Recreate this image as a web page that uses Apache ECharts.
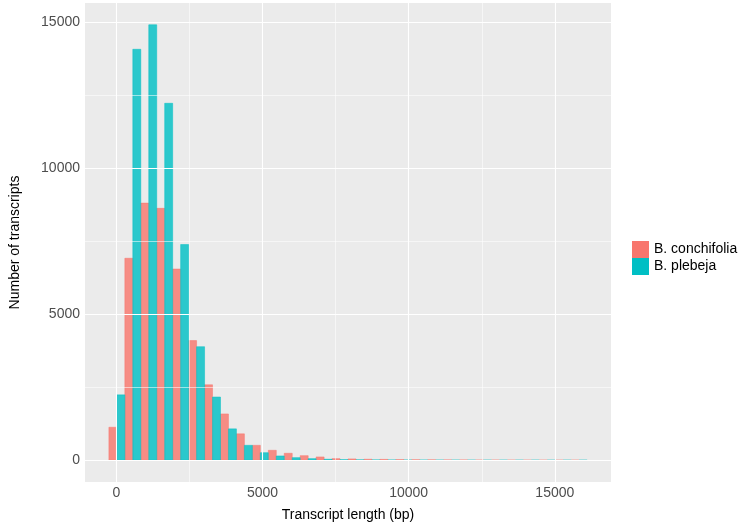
<!DOCTYPE html>
<html>
<head>
<meta charset="utf-8">
<script src="https://cdn.jsdelivr.net/npm/echarts@6/dist/echarts.min.js"></script>
<style>
  html, body { margin: 0; background: #fff; }
  #chart { width: 749px; height: 527px; }
</style>
</head>
<body>
<div id="chart"></div>
<script>
// histogram bins (30 bins, ggplot default)
const binStart = -259
const binWidth = 545.5
const conchifolia = [1130, 6920, 8810, 8630, 6550, 4100, 2585, 1585, 905, 510,
  340, 238, 156, 112, 54, 44, 34, 28, 22, 18, 15, 12, 10, 8, 7, 6, 5, 4, 4, 3]
const plebeja = [2240, 14080, 14920, 12230, 7390, 3890, 2165, 1075, 510, 258,
  146, 88, 54, 34, 20, 15, 12, 10, 9, 8, 7, 6, 5, 4, 4, 3, 3, 2, 2, 2]
const seriesNames = ['B. conchifolia', 'B. plebeja']
const xTicks = [0, 5000, 10000, 15000]
const yTicks = [0, 5000, 10000, 15000]
const xMinor = [2500, 7500, 12500]
const yMinor = [2500, 7500, 12500]

const font = "'Liberation Sans', Arial, sans-serif"
const half = binWidth / 2

// [left, right, count] for each dodged bar
let bars = (vals, offset) => vals.map((v, i) => {
  let x0 = binStart + i * binWidth + offset
  return [x0, x0 + half, v]
})

let renderBar = (params, api) => {
  let p0 = api.coord([api.value(0), 0])
  let p1 = api.coord([api.value(1), api.value(2)])
  let color = api.visual('color')
  return {
    type: 'rect',
    shape: { x: p0[0], y: p1[1], width: p1[0] - p0[0], height: p0[1] - p1[1] },
    style: { fill: color, stroke: color, lineWidth: 0.6, opacity: 0.82 }
  }
}

let gridLines = [
  ...yTicks.map(v => ({ yAxis: v, lineStyle: { width: 1.1 } })),
  ...yMinor.map(v => ({ yAxis: v, lineStyle: { width: 0.55 } })),
  ...xTicks.map(v => ({ xAxis: v, lineStyle: { width: 1.1 } })),
  ...xMinor.map(v => ({ xAxis: v, lineStyle: { width: 0.55 } }))
]

const chart = echarts.init(document.getElementById('chart'))
chart.setOption({
  animation: false,
  textStyle: { fontFamily: font },
  grid: {
    left: 71, right: 138, top: 3, bottom: 42,
    show: true, backgroundColor: '#EBEBEB', borderWidth: 0
  },
  legend: {
    data: seriesNames,
    orient: 'vertical',
    left: 627, top: 236,
    itemWidth: 17, itemHeight: 17, itemGap: 0,
    icon: 'rect',
    textStyle: { fontSize: 14, color: '#000', fontFamily: font }
  },
  xAxis: {
    type: 'value',
    min: -1077, max: 16923,
    name: 'Transcript length (bp)',
    nameLocation: 'middle', nameGap: 26,
    nameTextStyle: { fontSize: 14, color: '#000', fontFamily: font },
    axisLine: { show: false },
    splitLine: { show: false },
    axisTick: { show: true, customValues: xTicks, length: 4, lineStyle: { color: '#333', width: 1 } },
    axisLabel: {
      customValues: xTicks, formatter: v => String(v),
      fontSize: 14, color: '#4D4D4D', margin: 4, fontFamily: font
    }
  },
  yAxis: {
    type: 'value',
    min: -746, max: 15666,
    name: 'Number of transcripts',
    nameLocation: 'middle', nameGap: 63,
    nameTextStyle: { fontSize: 14, color: '#000', fontFamily: font },
    axisLine: { show: false },
    splitLine: { show: false },
    axisTick: { show: true, customValues: yTicks, length: 4, lineStyle: { color: '#333', width: 1 } },
    axisLabel: {
      customValues: yTicks, formatter: v => String(v),
      fontSize: 14, color: '#4D4D4D', margin: 5, fontFamily: font
    }
  },
  series: [
    {
      type: 'line', data: [], z: 1, silent: true,
      markLine: {
        silent: true, symbol: 'none', label: { show: false },
        lineStyle: { color: '#fff', type: 'solid' },
        data: gridLines
      }
    },
    {
      name: seriesNames[0], type: 'custom', z: 2,
      itemStyle: { color: '#F8766D' },
      renderItem: renderBar, encode: { x: [0, 1], y: 2 },
      data: bars(conchifolia, 0)
    },
    {
      name: seriesNames[1], type: 'custom', z: 2,
      itemStyle: { color: '#00BFC4' },
      renderItem: renderBar, encode: { x: [0, 1], y: 2 },
      data: bars(plebeja, half)
    }
  ]
})
</script>
</body>
</html>
